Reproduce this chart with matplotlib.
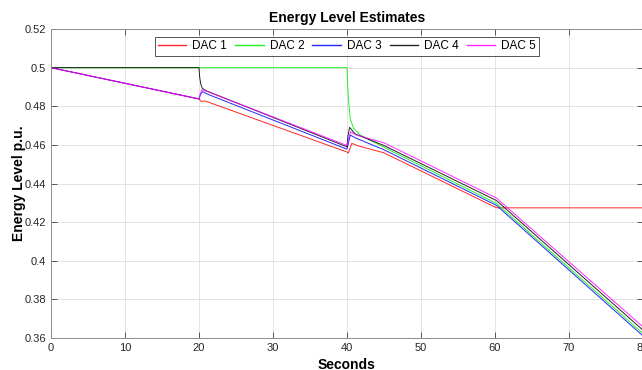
import matplotlib

matplotlib.use("Agg")

import matplotlib.pyplot as plt

# breakpoints (seconds, p.u.)
t_dac1 = [0, 20, 20.3, 20.8, 40, 40.2, 40.65, 41.5, 45, 60, 60.3, 80]
e_dac1 = [0.5, 0.4838, 0.4825, 0.4828, 0.4563, 0.4558, 0.4608, 0.4595, 0.4559,
          0.4278, 0.4274, 0.4274]

t_dac2 = [0, 40, 40.05, 40.1, 40.2, 40.45, 40.9, 41.8, 45, 60.2, 80]
e_dac2 = [0.5, 0.5, 0.496, 0.491, 0.4838, 0.4734, 0.4686, 0.4651, 0.4588,
          0.4297, 0.3623]

t_dac3 = [0, 20, 20.2, 20.5, 21.2, 40, 40.15, 40.45, 41.2, 45, 60.2, 80]
e_dac3 = [0.5, 0.4838, 0.4860, 0.4876, 0.4862, 0.4578, 0.4600, 0.4651, 0.4635,
          0.4575, 0.4287, 0.3611]

t_dac4 = [0, 20, 20.1, 20.25, 20.45, 21, 40, 40.15, 40.36, 41.1, 45, 60.2, 80]
e_dac4 = [0.5, 0.5, 0.495, 0.4915, 0.4893, 0.4880, 0.4590, 0.4650, 0.4691,
          0.4657, 0.4597, 0.4312, 0.3641]

t_dac5 = [0, 20, 20.2, 20.4, 21, 40, 40.2, 40.5, 41.2, 45, 60.2, 80]
e_dac5 = [0.5, 0.4838, 0.4868, 0.4886, 0.4878, 0.4597, 0.4630, 0.4668, 0.4652,
          0.4611, 0.4325, 0.3658]

x_ticks = [0, 10, 20, 30, 40, 50, 60, 70, 80]
y_ticks = [0.36, 0.38, 0.40, 0.42, 0.44, 0.46, 0.48, 0.50, 0.52]
y_tick_labels = ["0.36", "0.38", "0.4", "0.42", "0.44", "0.46", "0.48", "0.5", "0.52"]

series = [
    ("DAC 1", t_dac1, e_dac1, "#ff0000"),
    ("DAC 2", t_dac2, e_dac2, "#00ee00"),
    ("DAC 3", t_dac3, e_dac3, "#0000ff"),
    ("DAC 4", t_dac4, e_dac4, "#000000"),
    ("DAC 5", t_dac5, e_dac5, "#ff00ff"),
]

plt.rcParams["font.family"] = ["Liberation Sans", "DejaVu Sans"]

fig = plt.figure(figsize=(6.42, 3.70), dpi=100)
ax = fig.add_axes([0.0794, 0.0865, 0.922, 0.835])

for label, t, e, color in series:
    ax.plot(t, e, color=color, linewidth=0.7, alpha=0.85, label=label)

ax.set_xlim(0, 80)
ax.set_ylim(0.36, 0.52)
ax.set_xticks(x_ticks)
ax.set_xticklabels([str(v) for v in x_ticks])
ax.set_yticks(y_ticks)
ax.set_yticklabels(y_tick_labels)
ax.grid(True, color="#e3e3e3", linewidth=0.7)
ax.set_axisbelow(True)
for side in ax.spines.values():
    side.set_color("#8c8c8c")
    side.set_linewidth(0.7)
ax.tick_params(axis="both", direction="in", length=4, width=0.6, color="#404040",
               labelsize=8, labelcolor="#262626", top=True, right=True)

ax.set_title("Energy Level Estimates", fontsize=10, fontweight="bold", pad=5)
ax.set_xlabel("Seconds", fontsize=10, fontweight="bold", labelpad=4)
ax.set_ylabel("Energy Level p.u.", fontsize=10, fontweight="bold", labelpad=-1)

leg = ax.legend(loc="upper center", bbox_to_anchor=(0.5, 0.975), ncol=5, fontsize=8.5,
                frameon=True, fancybox=False, handlelength=2.4, columnspacing=0.7,
                handletextpad=0.5, borderpad=0.3, borderaxespad=0)
leg.get_frame().set_edgecolor("#262626")
leg.get_frame().set_linewidth(0.7)
for line in leg.get_lines():
    line.set_linewidth(1.0)

fig.savefig("out.png", dpi=100)
